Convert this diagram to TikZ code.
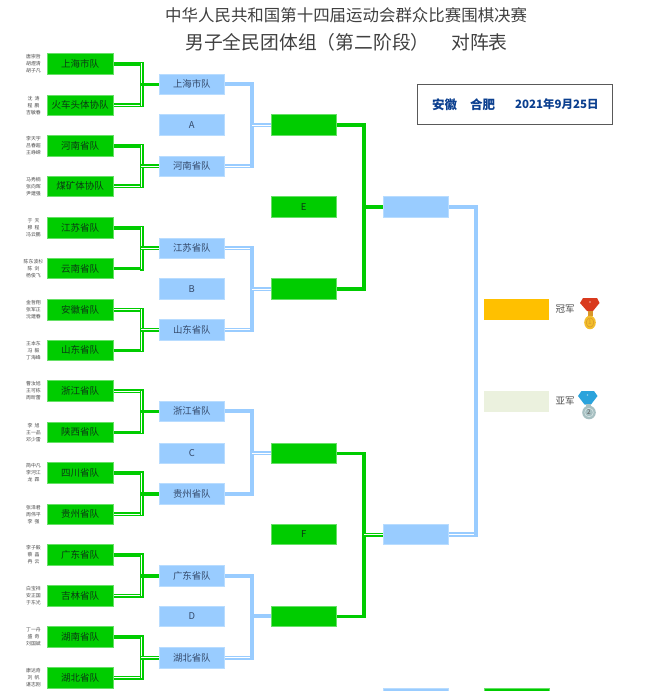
\documentclass[tikz,border=0pt]{standalone}
\usepackage{fontspec}
\setmainfont{Noto Sans CJK SC}
\usetikzlibrary{backgrounds}
\definecolor{gfill}{HTML}{00CC00}
\definecolor{gedge}{HTML}{66E066}
\definecolor{bfill}{HTML}{99CCFF}
\definecolor{bedge}{HTML}{B8DCFF}
\definecolor{gtext}{HTML}{0B3A14}
\definecolor{btext}{HTML}{34496A}
\definecolor{datecol}{HTML}{0B3F8F}
\definecolor{goldbar}{HTML}{FFC000}
\definecolor{silverbar}{HTML}{EBF1DE}
\definecolor{ribred}{HTML}{D93A1E}
\definecolor{ribblue}{HTML}{2BA3DC}
\definecolor{goldmedal}{HTML}{F2BE2C}
\definecolor{goldline}{HTML}{D8962A}
\definecolor{silvermedal}{HTML}{A7C0C2}
\definecolor{silverline}{HTML}{DCE8E8}
\tikzset{
  gbox/.style={draw=gedge,fill=gfill,line width=.6pt,minimum width=65.5pt,minimum height=20.5pt,inner sep=0pt,outer sep=0pt,text=gtext,font=\fontsize{9.5}{11}\selectfont},
  bbox/.style={draw=bedge,fill=bfill,line width=.6pt,minimum width=65.5pt,minimum height=20.5pt,inner sep=0pt,outer sep=0pt,text=btext,font=\fontsize{9.4}{11}\selectfont},
  namestyle/.style={inner sep=0pt,align=center,text=black!70,font=\fontsize{4.9}{7}\selectfont},
  gs/.style={draw=gfill,line width=3.6pt,line cap=rect},
  gd/.style={draw=gfill,line cap=rect,double=white,double distance=.8pt,line width=1.6pt},
  bs/.style={draw=bfill,line width=3.8pt,line cap=rect},
  bd/.style={draw=bfill,line cap=rect,double=white,double distance=.8pt,line width=1.7pt},
  prize/.style={minimum width=65.5pt,minimum height=20.7pt,inner sep=0pt,outer sep=0pt},
  lab/.style={inner sep=0pt,text=black!70,font=\fontsize{9.5}{11}\selectfont},
  medalnum/.style={inner sep=0pt,font=\fontsize{6.5}{7}\selectfont}
}
% a, b, target, vertical-x coordinate, style a, style b, style vertical, style link
\newcommand\bracketjoin[8]{%
  \draw[#5] (#1.east) -- (#1.east -| #4);
  \draw[#6] (#2.east) -- (#2.east -| #4);
  \draw[#7] (#1.east -| #4) -- (#2.east -| #4);
  \draw[#8] (#3.west -| #4) -- (#3.west);
}
\begin{document}
\begin{tikzpicture}[x=1pt,y=-1pt]
\useasboundingbox (0,0) rectangle (650,691);
\clip (0,0) rectangle (650,691);

\node[inner sep=0pt,anchor=west,text=black!75,font=\fontsize{16.45}{18}\selectfont] (t1) at (165,15) {中华人民共和国第十四届运动会群众比赛围棋决赛};
\node[inner sep=0pt,anchor=west,text=black!75,font=\fontsize{18.8}{20}\selectfont] (t2) at (185,42) {男子全民团体组（第二阶段）};
\node[inner sep=0pt,anchor=west,text=black!75,font=\fontsize{18.8}{20}\selectfont] (t3) at (451,42) {对阵表};

\node[draw=black!65,line width=1pt,minimum width=195pt,minimum height=40pt,inner sep=0pt] (datebox) at (515,104.5) {};
\node[inner sep=0pt,anchor=west,text=datecol,font=\bfseries\fontsize{12.5}{14}\selectfont] (d1) at (432,104.5) {安徽};
\node[inner sep=0pt,anchor=west,text=datecol,font=\bfseries\fontsize{12.5}{14}\selectfont] (d2) at (470,104.5) {合肥};
\node[inner sep=0pt,anchor=west,text=datecol,font=\bfseries\fontsize{11.5}{14}\selectfont] (d3) at (515,104.5) {2021年9月25日};

% teams
\foreach \nm/\yy/\tx/\na/\nb/\nc in {
 a1/63.7/上海市队/唐崇哲/胡煜清/胡子凡,
 a2/105.3/火车头体协队/沈\ \ 涛/程\ \ 鹏/吉敏春,
 a3/145.7/河南省队/李天宇/吕春超/王峥嵘,
 a4/186.3/煤矿体协队/马秀楠/张向晖/尹建强,
 a5/227.7/江苏省队/于\ \ 天/穆\ \ 程/冯云鹏,
 a6/268.5/云南省队/陈东波杉/陈\ \ 剑/杨俊飞,
 a7/309.8/安徽省队/金哲翔/张军正/沈建春,
 a8/350.3/山东省队/王本东/冯\ \ 毅/丁海峰,
 a9/391/浙江省队/曹汝旭/王可栋/周昕蕾,
 a10/432.3/陕西省队/李\ \ 旭/王一品/邓少雷,
 a11/473/四川省队/简中凡/李河江/龙\ \ 霖,
 a12/514.3/贵州省队/张泽君/周伟平/李\ \ 强,
 a13/555/广东省队/李子毅/蔡\ \ 晶/冉\ \ 云,
 a14/595.7/吉林省队/白宝祥/安正国/于东光,
 a15/637/湖南省队/丁一舟/盛\ \ 奇/刘国斌,
 a16/677.7/湖北省队/康达奇/刘\ \ 帆/谌志刚}{
  \node[gbox] (\nm) at (80.2,\yy) {\tx};
  \node[namestyle] (\nm n1) at (33.5,\yy-7) {\na};
  \node[namestyle] (\nm n2) at (33.5,\yy) {\nb};
  \node[namestyle] (\nm n3) at (33.5,\yy+7) {\nc};
}
% second column
\foreach \nm/\yy/\tx in {
 b1/84.3/上海市队, bA/125/A, b2/166.3/河南省队,
 b3/248.3/江苏省队, bB/289/B, b4/329.7/山东省队,
 b5/411.3/浙江省队, bC/453.3/C, b6/493.7/贵州省队,
 b7/575.7/广东省队, bD/616.3/D, b8/657.7/湖北省队}{
  \node[bbox] (\nm) at (191.8,\yy) {\tx};
}
% third column
\node[gbox] (c1) at (303.7,125) {};
\node[gbox] (cE) at (303.7,207) {E};
\node[gbox] (c2) at (303.7,289) {};
\node[gbox] (c3) at (303.7,453.3) {};
\node[gbox] (cF) at (303.7,534.5) {F};
\node[gbox] (c4) at (303.7,616.3) {};
% fourth column
\node[bbox] (e1) at (415.7,207) {};
\node[bbox] (e2) at (415.7,534.5) {};
\node[bbox] (e3) at (415.7,698.5) {};
\node[gbox] (e4) at (517,698.5) {};
% prizes
\node[prize,fill=goldbar] (gold) at (516.5,309.7) {};
\node[prize,fill=silverbar] (silver) at (516.5,401.7) {};
\node[lab] (l1) at (565,309.5) {冠军};
\node[lab] (l2) at (565,401.5) {亚军};

\coordinate (gv) at (141.7,0);
\coordinate (bv) at (252,0);
\coordinate (hv) at (364,0);
\coordinate (fv) at (476,0);

\begin{scope}[on background layer]
\bracketjoin{a1}{a2}{b1}{gv}{gs}{gd}{gd}{gs}
\bracketjoin{a3}{a4}{b2}{gv}{gs}{gd}{gd}{gd}
\bracketjoin{a5}{a6}{b3}{gv}{gs}{gs}{gd}{gd}
\bracketjoin{a7}{a8}{b4}{gv}{gd}{gs}{gd}{gd}
\bracketjoin{a9}{a10}{b5}{gv}{gd}{gs}{gd}{gs}
\bracketjoin{a11}{a12}{b6}{gv}{gs}{gd}{gd}{gs}
\bracketjoin{a13}{a14}{b7}{gv}{gs}{gd}{gd}{gs}
\bracketjoin{a15}{a16}{b8}{gv}{gs}{gd}{gd}{gd}
\bracketjoin{b1}{b2}{c1}{bv}{bs}{bd}{bs}{bd}
\bracketjoin{b3}{b4}{c2}{bv}{bd}{bd}{bs}{bd}
\bracketjoin{b5}{b6}{c3}{bv}{bs}{bs}{bs}{bd}
\bracketjoin{b7}{b8}{c4}{bv}{bs}{bd}{bs}{bs}
\bracketjoin{c1}{c2}{e1}{hv}{gs}{gs}{gs}{gs}
\bracketjoin{c3}{c4}{e2}{hv}{gs}{gs}{gs}{gd}
\draw[bs] (e1.east) -- (e1.east -| fv);
\draw[bd] (e2.east) -- (e2.east -| fv);
\draw[bs] (e1.east -| fv) -- (e2.east -| fv);
\end{scope}

% gold medal
\fill[ribred] (580,303) -- (583,298) -- (597,298) -- (599.5,303) -- (593,311) -- (587,311) -- cycle;
\fill[white!60!ribred] (590,302) circle (.9);
\fill[goldline] (587.5,311) rectangle (592.5,316);
\fill[goldmedal] (590,322.5) ellipse (5.8 and 6.8);
\draw[goldline,line width=.5pt] (590,322.5) ellipse (3.8 and 4.6);
\node[medalnum,text=goldline] (m1) at (590,322.5) {1};
% silver medal
\fill[ribblue] (578,396) -- (581.5,391) -- (594,391) -- (597.5,396) -- (591,404.5) -- (584.5,404.5) -- cycle;
\fill[white!50!ribblue] (587.5,395) circle (.9);
\fill[silvermedal] (586,404) rectangle (591,408);
\fill[silvermedal] (589,412.5) circle (6.8);
\draw[silverline,line width=.5pt] (589,412.5) circle (4.3);
\node[medalnum,text=black!65] (m2) at (589,412.5) {2};
\end{tikzpicture}
\end{document}
